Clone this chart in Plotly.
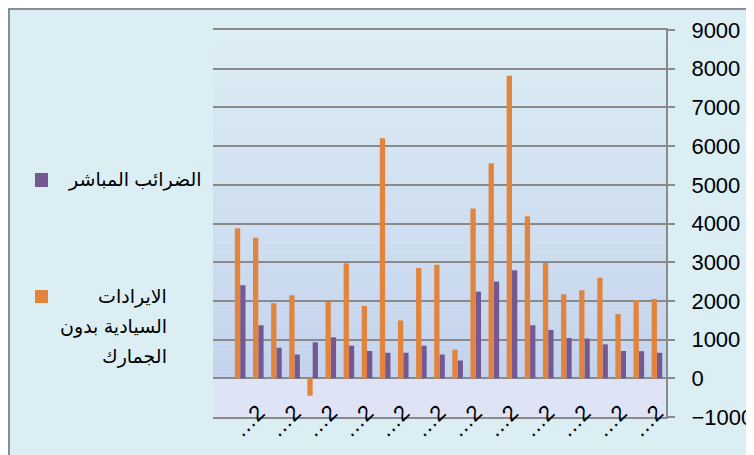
import plotly.graph_objects as go

# categories in data order (first category is drawn at the right, axis reversed)
categories = [str(i) for i in range(1, 26)]
tick_values = categories[0:23:2]
tick_labels = ["…2"] * 12

direct_taxes = [660, 700, 705, 877, 1030, 1040, 1250, 1370, 2790, 2500, 2240, 460,
                615, 843, 660, 660, 705, 843, 1060, 930, 615, 790, 1370, 2405, None]
sovereign_rev = [2050, 2020, 1660, 2600, 2275, 2170, 2980, 4190, 7820, 5560, 4390, 740,
                 2935, 2850, 1495, 6200, 1870, 2970, 1980, -450, 2145, 1940, 3630, 3880, None]

name_direct = "الضرائب المباشر"
name_sov_lines = ["الايرادات", "السيادية بدون", "الجمارك"]

purple = "#735893"
orange = "#E2843C"
grid = "#8A8A8A"

fig = go.Figure()
fig.add_trace(go.Bar(x=categories, y=direct_taxes, marker=dict(color=purple, line=dict(width=0)),
                     name=name_direct, showlegend=False))
fig.add_trace(go.Bar(x=categories, y=sovereign_rev, marker=dict(color=orange, line=dict(width=0)),
                     name=" ".join(name_sov_lines), showlegend=False))

# figure is placed 8px in from the page corner
W, H = 746, 447
L, R, T, B = 205, 88, 22, 38
pw, ph = W - L - R, H - T - B

def px(x):
    return (x - L) / pw

def py(y):
    return (H - B - y) / ph

shapes = []
# outer chart border
shapes.append(dict(type="rect", xref="paper", yref="paper", x0=px(1), x1=px(770), y0=py(470), y1=py(1),
                   fillcolor="#DAEEF3", line=dict(color="#8C8C8C", width=2), layer="below"))
# plot area gradient bands
def lerp(c1, c2, t):
    return tuple(round(a + (b - a) * t) for a, b in zip(c1, c2))
top_c = (221, 237, 244)
mid_c = (196, 211, 237)
low_c = (222, 228, 245)
n = 40
for i in range(n):
    y0 = i / n
    y1 = (i + 1) / n
    yc = (y0 + y1) / 2
    if yc >= 0.1:
        t = (1 - yc) / 0.9
        c = lerp(top_c, mid_c, t)
    else:
        c = low_c
    shapes.append(dict(type="rect", xref="paper", yref="paper", x0=0, x1=1, y0=y0, y1=y1,
                       fillcolor="rgb(%d,%d,%d)" % c, line=dict(width=0), layer="below"))
# legend swatches
shapes.append(dict(type="rect", xref="paper", yref="paper", x0=px(27), x1=px(40), y0=py(179), y1=py(165),
                   fillcolor=purple, line=dict(width=0)))
shapes.append(dict(type="rect", xref="paper", yref="paper", x0=px(27), x1=px(40), y0=py(295), y1=py(282),
                   fillcolor=orange, line=dict(width=0)))

font_fam = "Arial, Liberation Sans, DejaVu Sans, sans-serif"
annotations = [dict(text=name_direct, xref="paper", yref="paper", x=px(196), y=py(172),
                    xanchor="right", yanchor="middle", showarrow=False,
                    font=dict(size=19, color="#000000", family=font_fam))]
for k, line in enumerate(name_sov_lines):
    annotations.append(dict(text=line, xref="paper", yref="paper", x=px(161), y=py(289 + 30 * k),
                            xanchor="right", yanchor="middle", showarrow=False,
                            font=dict(size=19, color="#000000", family=font_fam)))

fig.update_layout(
    width=W, height=H,
    margin=dict(l=L, r=R, t=T, b=B, autoexpand=False),
    paper_bgcolor="white",
    plot_bgcolor="rgba(0,0,0,0)",
    barmode="group", bargap=0.415, bargroupgap=0,
    font=dict(family=font_fam, color="#000000"),
    shapes=shapes,
    annotations=annotations,
    xaxis=dict(type="category", categoryorder="array", categoryarray=categories,
               range=[24.5, -0.5], tickmode="array", tickvals=tick_values, ticktext=tick_labels,
               tickangle=-45, ticks="", showline=True, mirror=True, linecolor=grid, linewidth=2,
               showgrid=False, zeroline=False, tickfont=dict(size=22, family=font_fam),
               ticklabelstandoff=-28, automargin=False),
    xaxis2=dict(type="category", overlaying="x", matches="x", anchor="free", position=0.1,
                categoryorder="array", categoryarray=categories,
                showticklabels=False, ticks="outside", tickson="boundaries", ticklen=7,
                tickcolor=grid, tickwidth=1.5, showline=True, linecolor=grid, linewidth=2,
                showgrid=False, zeroline=False, automargin=False),
    yaxis=dict(side="right", range=[-1000, 9000], dtick=1000, tick0=0,
               showgrid=True, gridcolor=grid, gridwidth=1.5, zeroline=False,
               showline=True, linecolor=grid, linewidth=2, ticks="outside", ticklen=7,
               tickcolor=grid, tickwidth=1.5, tickfont=dict(size=22, family=font_fam),
               ticklabelstandoff=12, automargin=False),
    showlegend=False,
)

fig.write_html("out.html")
